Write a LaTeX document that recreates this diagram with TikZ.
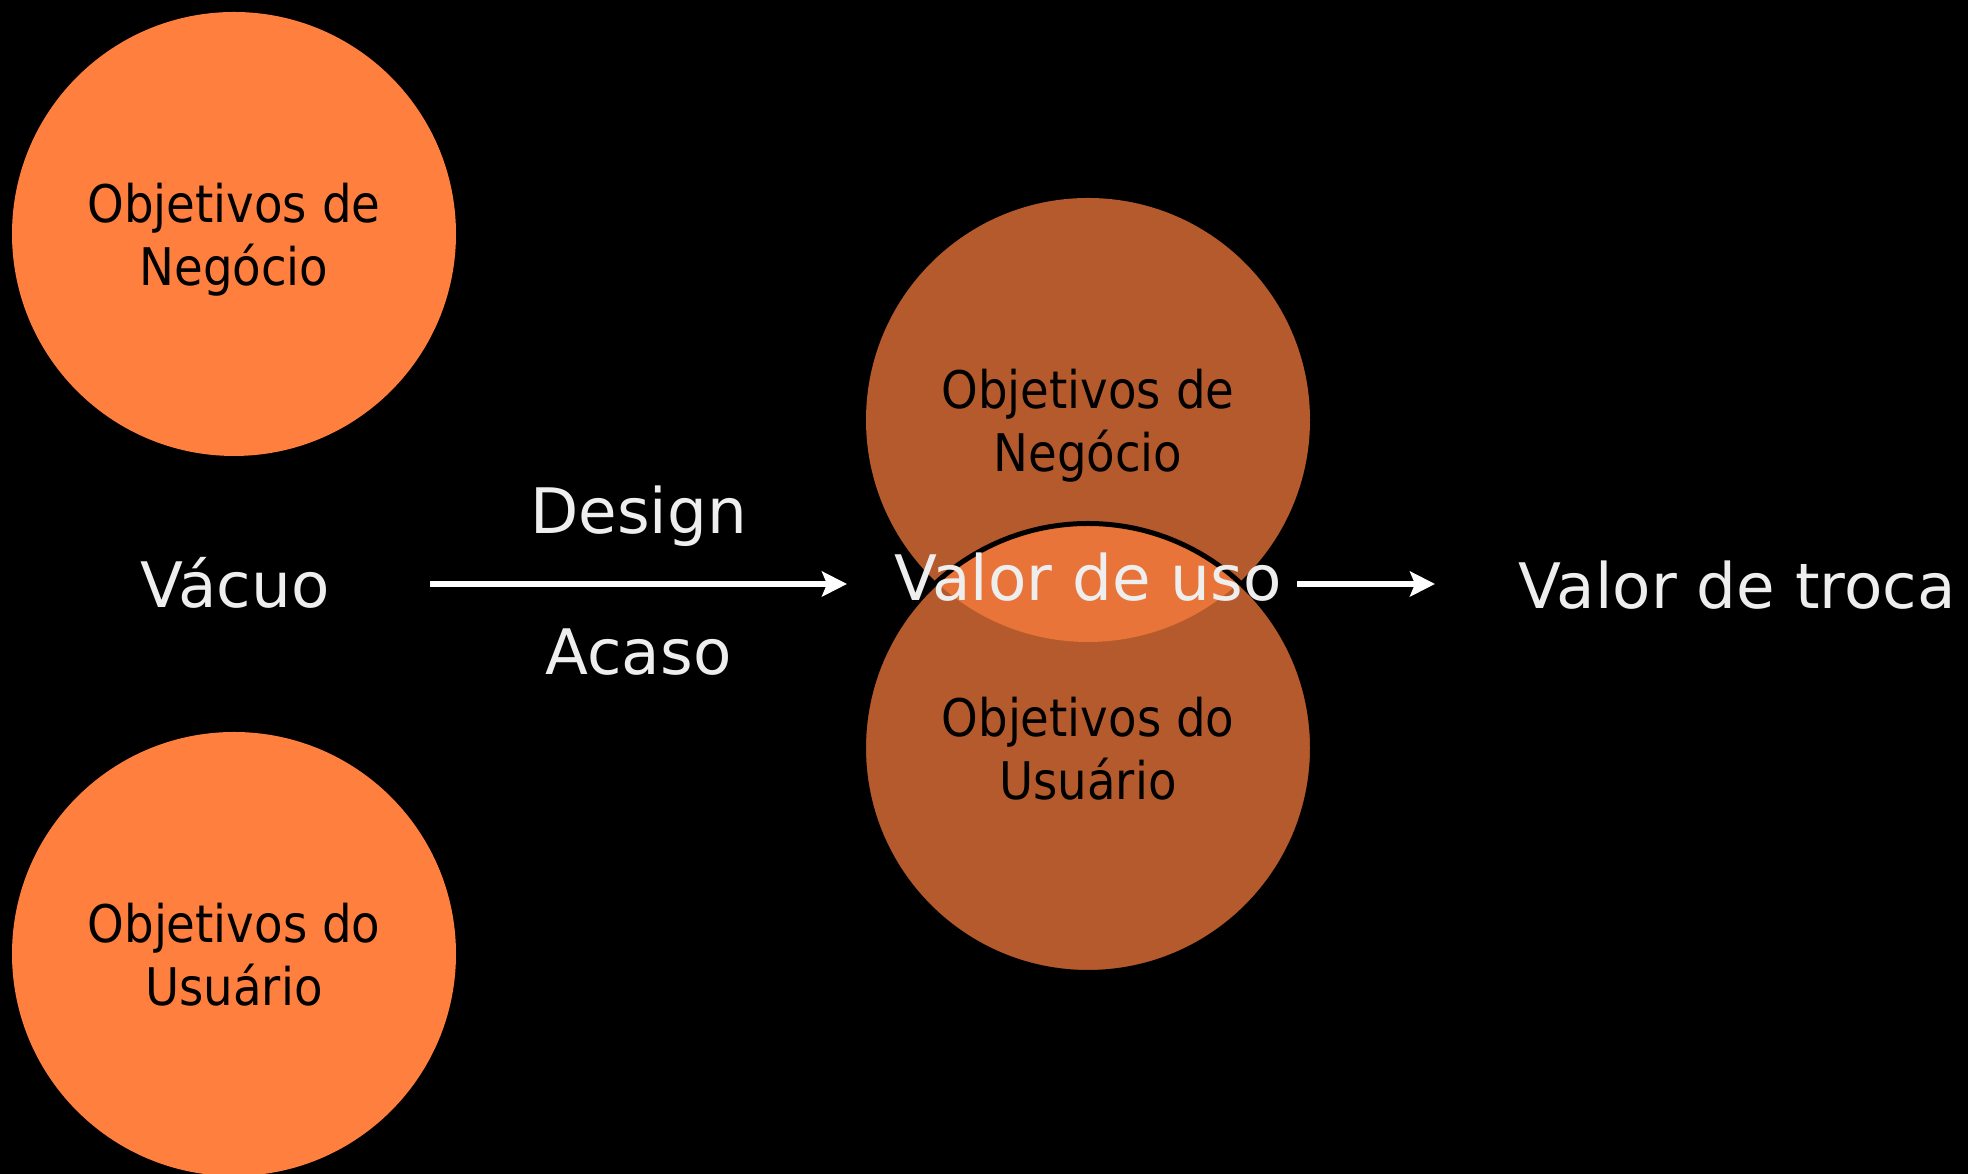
\documentclass[tikz,border=0pt]{standalone}
\usepackage{fontspec}
\setmainfont{DejaVu Sans}
\newfontfamily\goalfont{DejaVu Sans Condensed}
\usepackage{tikz}
\usetikzlibrary{shapes, arrows.meta, positioning}
\definecolor{goalorange}{RGB}{255,127,63}
\definecolor{labelgray}{RGB}{238,238,238}
\tikzstyle{goal} = [circle, fill=goalorange, minimum size=8.88cm, inner sep=0pt, text depth=0pt, align=center, font=\goalfont\fontsize{29.5}{35.7}\selectfont]
\tikzstyle{overlap} = [goal, fill opacity=0.71, text opacity=1]
\tikzstyle{caption} = [text=labelgray, inner sep=0pt, font=\fontsize{35.7}{43}\selectfont]
\tikzstyle{flow} = [draw=white, line width=0.12cm, ->]

\begin{document}
\begin{tikzpicture}[>={Stealth[length=0.5cm, width=0.5cm, inset=0.1cm]}]
    \fill [black] (0,0) rectangle (39.36,23.48);
    \useasboundingbox (0,0) rectangle (39.36,23.48);
    % left: the two goals apart
    \node [goal] (negL) at (4.68,18.80) {Objetivos de\\Neg\'ocio};
    \node [goal] (usrL) at (4.68,4.40) {Objetivos do\\Usu\'ario};
    \node [caption, anchor=base] (vacuo) at (4.70,11.32) {Vácuo};
    % middle: the two goals overlapping
    \node [overlap] (negM) at (21.76,15.08) {Objetivos de\\Neg\'ocio};
    \node [overlap, minimum size=8.98cm, draw=black, draw opacity=1, line width=0.1cm] (usrM) at (21.76,8.52) {Objetivos do\\Usu\'ario};
    \node [caption, anchor=base] (uso) at (21.76,11.46) {Valor de uso};
    \node [caption, anchor=base] (troca) at (34.74,11.30) {Valor de troca};
    \coordinate (a1) at (8.60,11.80);
    \coordinate (a2) at (16.94,11.80);
    \coordinate (b1) at (25.94,11.80);
    \coordinate (b2) at (28.70,11.80);
    \draw [flow] (a1) -- (a2) node [caption, midway, anchor=base, yshift=1cm] {Design} node [caption, midway, anchor=base, yshift=-1.82cm] {Acaso};
    \draw [flow] (b1) -- (b2);
\end{tikzpicture}
\end{document}
